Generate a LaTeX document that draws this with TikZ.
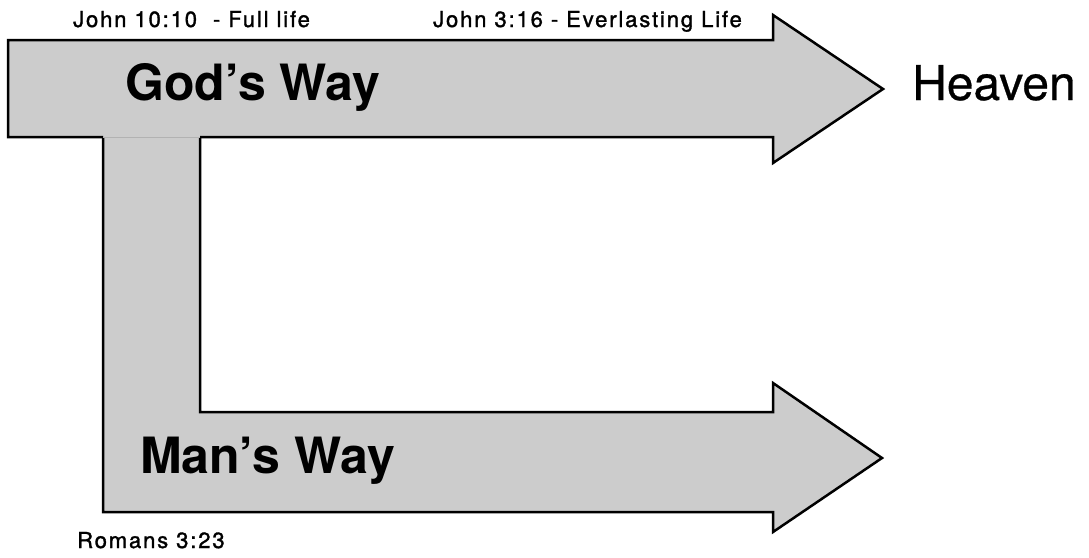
\documentclass[tikz,border=0pt]{standalone}
\usepackage{fontspec}
\setmainfont{TeX Gyre Heros}
\definecolor{wayfill}{HTML}{CCCCCC}
\tikzstyle{wayshape}=[fill=wayfill]
\tikzstyle{wayline}=[draw=black, line width=2.5pt, line join=miter]
\tikzstyle{waylabel}=[anchor=base west, inner sep=0pt, font=\fontsize{50}{58}\selectfont\bfseries]
\tikzstyle{goal}=[anchor=base west, inner sep=0pt, font=\fontsize{48}{56}\selectfont\addfontfeature{FakeBold=0.6}]
\tikzstyle{verse}=[anchor=base west, inner sep=0pt, font=\fontsize{22}{26}\selectfont\addfontfeature{LetterSpace=8.5,FakeBold=1.5}]

\begin{document}
\begin{tikzpicture}[x=1pt, y=-1pt]
        \useasboundingbox (0,0) rectangle (1089,557);
        % man's way
        \fill[wayshape] (103,137) -- (103,512) -- (773,512) -- (773,532) -- (882,458)
            -- (773,383) -- (773,412) -- (200,412) -- (200,137) -- cycle;
        % god's way
        \fill[wayshape] (8,40) -- (773,40) -- (773,15) -- (883,89) -- (773,163)
            -- (773,137) -- (8,137) -- cycle;
        \draw[wayline] (200,137) -- (200,412) -- (773,412) -- (773,383) -- (882,458)
            -- (773,532) -- (773,512) -- (103,512) -- (103,137);
        \draw[wayline] (103,137) -- (8,137) -- (8,40) -- (773,40) -- (773,15)
            -- (883,89) -- (773,163) -- (773,137) -- (200,137);
        \draw[gray!60, line width=0.8pt] (103,137) -- (200,137);
        \node[waylabel] (gods) at (125,100) {God's Way};
        \node[waylabel] (mans) at (140,473) {Man's Way};
        \node[goal] (heaven) at (912,100) {Heaven};
        \node[verse] (john1010) at (73,27) {John 10:10\ \ - Full life};
        \node[verse] (john316) at (433,27) {John 3:16 - Everlasting Life};
        \node[verse] (romans) at (77,548) {Romans 3:23};
    \end{tikzpicture}
\end{document}
